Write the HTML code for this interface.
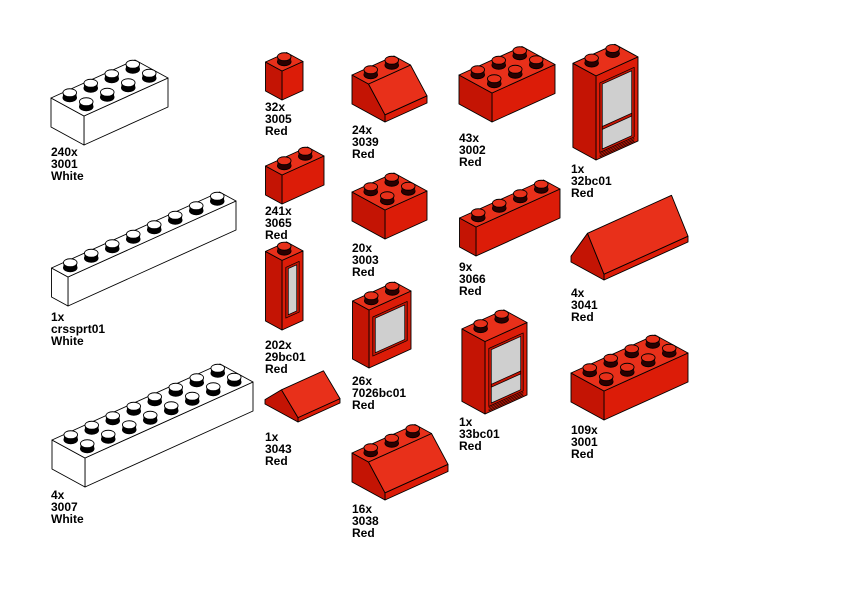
<!DOCTYPE html>
<html><head><meta charset="utf-8"><style>
html,body{margin:0;padding:0;background:#fff;width:842px;height:596px;overflow:hidden}
svg{display:block}
text{font-family:"Liberation Sans",Arial,sans-serif;font-weight:bold;font-size:12px;fill:#000}
</style></head><body>
<svg id="s" width="842" height="596" viewBox="0 0 842 596" xmlns="http://www.w3.org/2000/svg">
<g id="g"></g>
<text x="51" y="156">240x</text><text x="51" y="168">3001</text><text x="51" y="180">White</text>
<text x="51" y="321">1x</text><text x="51" y="333">crssprt01</text><text x="51" y="345">White</text>
<text x="51" y="499">4x</text><text x="51" y="511">3007</text><text x="51" y="523">White</text>
<text x="265" y="111">32x</text><text x="265" y="123">3005</text><text x="265" y="135">Red</text>
<text x="265" y="215">241x</text><text x="265" y="227">3065</text><text x="265" y="239">Red</text>
<text x="265" y="349">202x</text><text x="265" y="361">29bc01</text><text x="265" y="373">Red</text>
<text x="265" y="441">1x</text><text x="265" y="453">3043</text><text x="265" y="465">Red</text>
<text x="352" y="134">24x</text><text x="352" y="146">3039</text><text x="352" y="158">Red</text>
<text x="352" y="252">20x</text><text x="352" y="264">3003</text><text x="352" y="276">Red</text>
<text x="352" y="385">26x</text><text x="352" y="397">7026bc01</text><text x="352" y="409">Red</text>
<text x="352" y="513">16x</text><text x="352" y="525">3038</text><text x="352" y="537">Red</text>
<text x="459" y="142">43x</text><text x="459" y="154">3002</text><text x="459" y="166">Red</text>
<text x="459" y="271">9x</text><text x="459" y="283">3066</text><text x="459" y="295">Red</text>
<text x="459" y="426">1x</text><text x="459" y="438">33bc01</text><text x="459" y="450">Red</text>
<text x="571" y="173">1x</text><text x="571" y="185">32bc01</text><text x="571" y="197">Red</text>
<text x="571" y="297">4x</text><text x="571" y="309">3041</text><text x="571" y="321">Red</text>
<text x="571" y="434">109x</text><text x="571" y="446">3001</text><text x="571" y="458">Red</text>
</svg>
<script>
var A=[21,-9.5],B=[-16.5,-9],HH=29,out=[];
var RED={top:"#e8301a",a:"#dc1c08",b:"#c41404",stud:"#2a0000"};
var WH={top:"#fff",a:"#fff",b:"#fff",stud:"#000"};
function pt(P,u,v,w){return [P[0]+u*A[0]+v*B[0],P[1]+u*A[1]+v*B[1]-w*HH];}
function poly(ps,f,sw){out.push('<polygon points="'+ps.map(function(p){return p[0].toFixed(1)+','+p[1].toFixed(1)}).join(' ')+'" fill="'+f+'" stroke="#000" stroke-width="'+(sw||0.9)+'" stroke-linejoin="round"/>');}
function studs(P,list,H,c){
 list=list.map(function(s){return pt(P,s[0],s[1],H)}).sort(function(x,y){return x[1]-y[1]});
 list.forEach(function(p){var rx=6.8,ry=4,h=5;
  out.push('<ellipse cx="'+p[0]+'" cy="'+p[1]+'" rx="'+rx+'" ry="'+ry+'" fill="'+c.stud+'" stroke="#000" stroke-width="0.9"/>');
  out.push('<rect x="'+(p[0]-rx)+'" y="'+(p[1]-h)+'" width="'+2*rx+'" height="'+h+'" fill="'+c.stud+'"/>');
  out.push('<ellipse cx="'+p[0]+'" cy="'+(p[1]-h)+'" rx="'+rx+'" ry="'+ry+'" fill="'+c.top+'" stroke="#000" stroke-width="0.9"/>');});
}
function grid(L,W,v0){var r=[];for(var u=0;u<L;u++)for(var v=(v0||0);v<W;v++)r.push([u+.5,v+.5]);return r;}
function box(P,L,W,H,c,noStuds){
 poly([pt(P,0,0,0),pt(P,L,0,0),pt(P,L,0,H),pt(P,0,0,H)],c.a);
 poly([pt(P,0,0,0),pt(P,0,W,0),pt(P,0,W,H),pt(P,0,0,H)],c.b);
 poly([pt(P,0,0,H),pt(P,L,0,H),pt(P,L,W,H),pt(P,0,W,H)],c.top);
 if(!noStuds)studs(P,grid(L,W),H,c);
}
function slope(P,L,W,H,hs,c){
 var f=W-1;
 poly([pt(P,0,0,0),pt(P,L,0,0),pt(P,L,0,hs),pt(P,0,0,hs)],c.a);
 poly([pt(P,0,0,0),pt(P,0,W,0),pt(P,0,W,H),pt(P,0,f,H),pt(P,0,0,hs)],c.b);
 poly([pt(P,0,0,hs),pt(P,L,0,hs),pt(P,L,f,H),pt(P,0,f,H)],c.top);
 poly([pt(P,0,f,H),pt(P,L,f,H),pt(P,L,W,H),pt(P,0,W,H)],c.top);
 studs(P,grid(L,W,f),H,c);
}
function roof(P,L,W,H,hs,c){
 var m=W/2;
 poly([pt(P,0,0,0),pt(P,L,0,0),pt(P,L,0,hs),pt(P,0,0,hs)],c.a);
 poly([pt(P,0,0,0),pt(P,0,W,0),pt(P,0,W,hs),pt(P,0,m,H),pt(P,0,0,hs)],c.b);
 poly([pt(P,0,0,hs),pt(P,L,0,hs),pt(P,L,m,H),pt(P,0,m,H)],c.top);
}
function win(P,L,W,H,c,door){
 box(P,L,W,H,c,true);
 var u0=0.18,u1=L-0.18,w0=door?0.2:0.35,w1=H-0.3;
 poly([pt(P,u0,0,w0),pt(P,u1,0,w0),pt(P,u1,0,w1),pt(P,u0,0,w1)],"#c41404",0.7);
 var d=0.12;
 poly([pt(P,u0+d,0,w0+0.08),pt(P,u1-d,0,w0+0.08),pt(P,u1-d,0,w1-0.08),pt(P,u0+d,0,w1-0.08)],"#cfcfcf",0.7);
 if(door){poly([pt(P,u0+d,0,H*0.33),pt(P,u1-d,0,H*0.33),pt(P,u1-d,0,H*0.33+0.1),pt(P,u0+d,0,H*0.33+0.1)],"#c41404",0.7);
  for(var i=1;i<=3;i++){var w=0.05*i;poly([pt(P,u0,0,w),pt(P,u1,0,w)],"none",0.6);} }
 var s=[];for(var u=0;u<Math.round(L);u++)s.push([u+.5,W-0.5]);
 studs(P,s,H,c);
}
box([84,145],4,2,1,WH);
box([68,306],8,1,1,WH);
box([85,487],8,2,1,WH);
box([282,100],1,1,1,RED);
box([282,204],2,1,1,RED);
win([282,330],1,1,2.4,RED,false);
roof([298,422],2,2,0.8,0.15,RED);
slope([385,122],2,2,1,0.25,RED);
box([385,239],2,2,1,RED);
win([369,368],2,1,2,RED,false);
slope([385,500],3,2,1,0.25,RED);
box([492,122],3,2,1,RED);
box([476,256],4,1,1,RED);
win([485,414],2,1.4,2.5,RED,true);
win([596,160],2,1.4,2.9,RED,true);
roof([604,280],4,2,1.3,0.2,RED);
box([604,420],4,2,1,RED);
document.getElementById("g").innerHTML=out.join("");
</script>
</body></html>
